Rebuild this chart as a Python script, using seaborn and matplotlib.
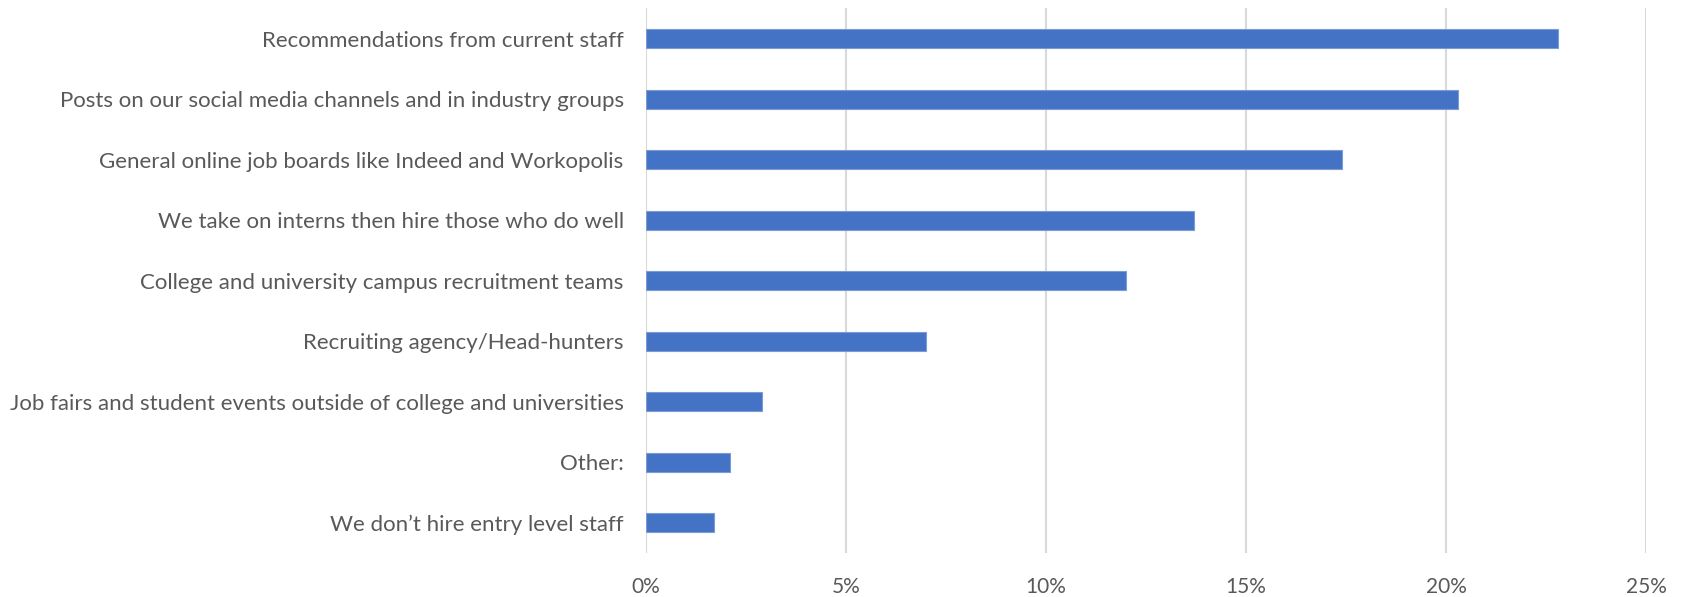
import matplotlib
matplotlib.use("Agg")
import matplotlib.pyplot as plt
import seaborn as sns
import pandas as pd
from matplotlib.ticker import PercentFormatter

categories = [
    "Recommendations from current staff",
    "Posts on our social media channels and in industry groups",
    "General online job boards like Indeed and Workopolis",
    "We take on interns then hire those who do well",
    "College and university campus recruitment teams",
    "Recruiting agency/Head-hunters",
    "Job fairs and student events outside of college and universities",
    "Other:",
    "We don\u2019t hire entry level staff",
]
shares = [22.8, 20.3, 17.4, 13.7, 12.0, 7.0, 2.9, 2.1, 1.7]
x_ticks = [0, 5, 10, 15, 20, 25]

df = pd.DataFrame({"source": categories, "share": shares})

sns.set_theme(style="white")
plt.rcParams["font.family"] = ["Lato", "DejaVu Sans"]

fig = plt.figure(figsize=(16.83, 5.97), dpi=100)
ax = fig.add_axes([0.3838, 0.0737, 0.5942, 0.9123])

sns.barplot(data=df, x="share", y="source", orient="h", color="#4472C4",
            saturation=1, width=0.31, edgecolor="#7B9BD6", linewidth=0.8,
            ax=ax, zorder=3)

ax.set_xlim(0, 25)
ax.set_xticks(x_ticks)
ax.xaxis.set_major_formatter(PercentFormatter(decimals=0))
ax.grid(axis="x", color="#D9D9D9", linewidth=1.5, zorder=0)
ax.grid(axis="y", visible=False)
for s in ax.spines.values():
    s.set_visible(False)

ax.set_xlabel("")
ax.set_ylabel("")
ax.tick_params(axis="y", length=0, pad=16, labelsize=16, labelcolor="#595959")
ax.tick_params(axis="x", length=0, pad=17, labelsize=15, labelcolor="#595959")

fig.savefig("out.png", dpi=100, facecolor="white")
